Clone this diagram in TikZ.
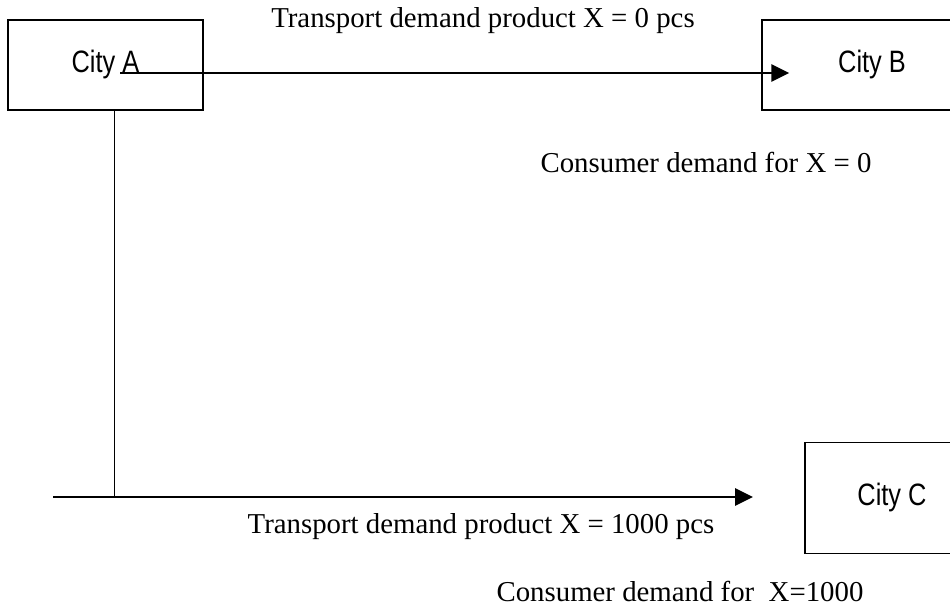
\documentclass[tikz,border=0pt]{standalone}
\usepackage{fontspec}
\setmainfont{Liberation Serif}
\newfontfamily\cityfont[FakeStretch=0.82]{Liberation Sans}
\usetikzlibrary{arrows.meta}

\begin{document}
\begin{tikzpicture}[city/.style = {draw, line width=0.8pt, font=\cityfont\fontsize{17.6}{20}\selectfont},
        ar/.style = {line width=1.6pt, -{Triangle[length=0.36cm, width=0.34cm]}},
        note/.style = {anchor=base, inner sep=0pt, font=\fontsize{16.4}{19}\selectfont}]
        \useasboundingbox (0,0) rectangle (19,12.16);
        \clip (0,0) rectangle (19,12.16);

        \node[city, minimum width=3.9cm, minimum height=1.8cm] (cityA) at (2.11,10.86) {City A};
        \node[city, minimum width=4.4cm, minimum height=1.8cm] (cityB) at (17.44,10.86) {City B};
        \node[city, minimum width=3.48cm, minimum height=2.22cm] (cityC) at (17.84,2.2) {City C};

        \node[note] (transAB) at (9.66,11.6) {Transport demand product X = 0 pcs};
        \node[note] (consB) at (14.12,8.7) {Consumer demand for X = 0};
        \node[note] (transAC) at (9.62,1.48) {Transport demand product X = 1000 pcs};
        \node[note] (consC) at (13.6,0.13) {Consumer demand for\ \ X=1000};

        % arrow ends
        \coordinate (abStart) at ([xshift=0.29cm]cityA.base);
        \coordinate (abEnd) at ([xshift=0.56cm]cityB.west |- abStart);
        \coordinate (acStart) at (1.06,2.22);
        \coordinate (acJoin) at (2.29,2.22);
        \coordinate (acEnd) at (15.06,2.22);

        \draw[ar] (abStart) -- (abEnd);
        \draw[line width=1.1pt] (cityA.south -| acJoin) -- (acJoin);
        \draw[ar] (acStart) -- (acEnd);
    \end{tikzpicture}
\end{document}
